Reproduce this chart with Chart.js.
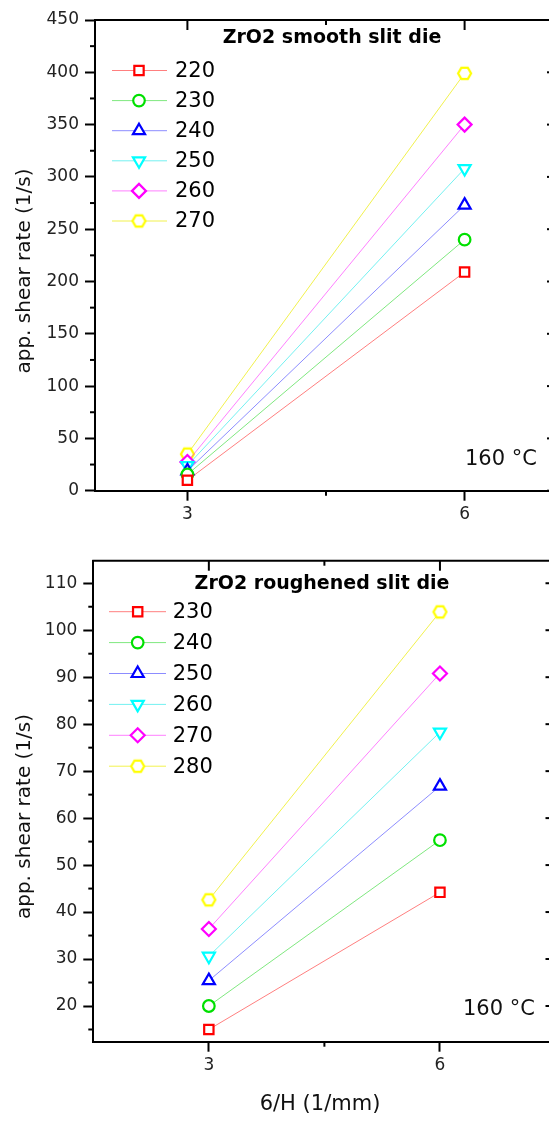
<!DOCTYPE html>
<html>
<head>
<meta charset="utf-8">
<script src="https://cdn.jsdelivr.net/npm/chart.js@4/dist/chart.umd.min.js"></script>
<style>
  html, body { margin: 0; padding: 0; background: #fff; overflow: hidden; width: 549px; height: 1122px; }
  canvas { position: absolute; left: 0; }
</style>
</head>
<body>
<canvas id="c1" width="570" height="540" style="top:0"></canvas>
<canvas id="c2" width="570" height="582" style="top:540px"></canvas>
<script>
const FONT = 'DejaVu Sans';

// shared x values (6/H, 1/mm)
const xValues = [3, 6];
const xTicks = [3, 6];
const xMinorTicks = [4.5];

// top panel: smooth slit die
const smoothLabels = ['220', '230', '240', '250', '260', '270'];
const smooth220 = [10, 209];
const smooth230 = [15.5, 240];
const smooth240 = [19, 273];
const smooth250 = [24, 308];
const smooth260 = [27.5, 350];
const smooth270 = [35, 399];
const smoothYTicks = [0, 50, 100, 150, 200, 250, 300, 350, 400, 450];
const smoothYMinor = [25, 75, 125, 175, 225, 275, 325, 375, 425];

// bottom panel: roughened slit die
const roughLabels = ['230', '240', '250', '260', '270', '280'];
const rough230 = [15, 44.2];
const rough240 = [20, 55.3];
const rough250 = [25.4, 66.8];
const rough260 = [30.6, 78.3];
const rough270 = [36.4, 90.8];
const rough280 = [42.6, 103.9];
const roughYTicks = [20, 30, 40, 50, 60, 70, 80, 90, 100, 110];
const roughYMinor = [15, 25, 35, 45, 55, 65, 75, 85, 95, 105];

// series look (same order in both panels)
const markerColors = ['#ff0000', '#00e000', '#0000ff', '#00ffff', '#ff00ff', '#ffff00'];
const lineColors = ['rgba(255,0,0,0.5)', 'rgba(0,210,0,0.5)', 'rgba(0,0,255,0.45)',
                    'rgba(0,230,230,0.55)', 'rgba(255,0,255,0.5)', 'rgba(235,235,0,0.7)'];

function makeHexagon(color, r) {
  const c = document.createElement('canvas');
  const s = Math.ceil(2 * r + 4);
  c.width = s; c.height = s;
  const g = c.getContext('2d');
  g.strokeStyle = color;
  g.fillStyle = '#fff';
  g.lineWidth = 2.2;
  g.beginPath();
  for (let k = 0; k < 6; k++) {
    const a = k * Math.PI / 3;
    const px = s / 2 + r * Math.cos(a);
    const py = s / 2 + r * Math.sin(a);
    k === 0 ? g.moveTo(px, py) : g.lineTo(px, py);
  }
  g.closePath();
  g.fill();
  g.stroke();
  return c;
}

const hexagon = makeHexagon('#ffff00', 6.5);
const pointStyles = ['rect', 'circle', 'triangle', 'triangle', 'rectRot', hexagon];
const pointRotations = [0, 0, 0, 180, 0, 0];
const pointRadii = [6.6, 5.8, 7, 7, 7, 6.5];

function buildDatasets(labels, series) {
  return series.map((vals, i) => ({
    label: labels[i],
    data: xValues.map((x, j) => ({ x, y: vals[j] })),
    showLine: true,
    borderColor: lineColors[i],
    borderWidth: 1,
    pointStyle: pointStyles[i],
    rotation: pointRotations[i],
    pointRadius: pointRadii[i],
    pointBorderWidth: 2.2,
    pointBorderColor: markerColors[i],
    pointBackgroundColor: '#fff'
  }));
}

// frame, minor ticks, legend and labels inside the panel
const panelDecor = {
  id: 'panelDecor',
  afterDraw(chart, args, o) {
    const { ctx, chartArea: a, scales: { x, y } } = chart;
    const seg = (x1, y1, x2, y2) => { ctx.beginPath(); ctx.moveTo(x1, y1); ctx.lineTo(x2, y2); ctx.stroke(); };
    ctx.save();
    ctx.strokeStyle = '#000';
    ctx.lineWidth = 2;
    seg(a.left - 1, a.top, a.right, a.top);
    seg(a.right, a.top, a.right, a.bottom);

    o.xMajor.forEach(v => { const p = x.getPixelForValue(v); seg(p, a.top, p, a.top + 10); });
    o.xMinor.forEach(v => {
      const p = x.getPixelForValue(v);
      seg(p, a.top, p, a.top + 5);
      seg(p, a.bottom, p, a.bottom + 5);
    });
    o.yMajor.forEach(v => { const p = y.getPixelForValue(v); seg(a.right - 10, p, a.right, p); });
    o.yMinor.forEach(v => {
      const p = y.getPixelForValue(v);
      seg(a.left - 5, p, a.left, p);
      seg(a.right - 5, p, a.right, p);
    });

    // legend
    const L = o.legend;
    chart.data.datasets.forEach((ds, i) => {
      const ly = L.y0 + i * L.gap;
      ctx.strokeStyle = ds.borderColor;
      ctx.lineWidth = 1;
      seg(L.x1, ly, L.x2, ly);
      ctx.strokeStyle = ds.pointBorderColor;
      ctx.fillStyle = '#fff';
      ctx.lineWidth = 2.2;
      Chart.helpers.drawPoint(ctx, {
        pointStyle: ds.pointStyle, rotation: ds.rotation,
        radius: ds.pointRadius, borderWidth: 2.2
      }, L.mx, ly);
      ctx.fillStyle = '#000';
      ctx.font = `21px "${FONT}"`;
      ctx.textAlign = 'left';
      ctx.textBaseline = 'middle';
      ctx.fillText(ds.label, L.tx, ly + 1);
    });

    ctx.fillStyle = '#000';
    ctx.textBaseline = 'middle';
    ctx.font = `bold 19px "${FONT}"`;
    ctx.textAlign = 'center';
    ctx.fillText(o.title, o.titleX, o.titleY);

    ctx.font = `21px "${FONT}"`;
    ctx.textAlign = 'left';
    ctx.fillStyle = '#111';
    ctx.fillText('160 °C', o.noteX, o.noteY);

    ctx.font = `20px "${FONT}"`;
    ctx.textAlign = 'center';
    ctx.save();
    ctx.translate(o.yTitleX, o.yTitleY);
    ctx.rotate(-Math.PI / 2);
    ctx.fillText('app. shear rate (1/s)', 0, 0);
    ctx.restore();

    if (o.xTitle) {
      ctx.font = `21px "${FONT}"`;
      ctx.fillText(o.xTitle, o.xTitleX, o.xTitleY);
    }
    ctx.restore();
  }
};

function makeChart(id, cfg) {
  return new Chart(document.getElementById(id), {
    type: 'scatter',
    data: { datasets: cfg.datasets },
    options: {
      responsive: false,
      animation: false,
      layout: { padding: { top: cfg.padTop, right: cfg.padRight, left: 0, bottom: 0 } },
      plugins: { legend: { display: false }, tooltip: { enabled: false }, panelDecor: cfg.decor },
      scales: {
        x: {
          type: 'linear', min: cfg.xMin, max: cfg.xMax,
          afterBuildTicks: s => { s.ticks = xTicks.map(v => ({ value: v })); },
          afterFit: s => { s.height = cfg.xHeight; },
          grid: { drawOnChartArea: false, tickLength: 10, tickColor: '#000', tickWidth: 2 },
          border: { color: '#000', width: 2 },
          ticks: { font: { family: FONT, size: 17 }, color: '#222', padding: 4, autoSkip: false }
        },
        y: {
          type: 'linear', min: cfg.yMin, max: cfg.yMax,
          afterBuildTicks: s => { s.ticks = cfg.yTicks.map(v => ({ value: v })); },
          afterFit: s => { s.width = cfg.yWidth; },
          grid: { drawOnChartArea: false, tickLength: 10, tickColor: '#000', tickWidth: 2 },
          border: { color: '#000', width: 2 },
          ticks: { font: { family: FONT, size: 17 }, color: '#222', padding: 6, autoSkip: false }
        }
      }
    },
    plugins: [panelDecor]
  });
}

makeChart('c1', {
  datasets: buildDatasets(smoothLabels, [smooth220, smooth230, smooth240, smooth250, smooth260, smooth270]),
  padTop: 20, padRight: 13, xHeight: 49.3, yWidth: 95,
  xMin: 2, xMax: 7, yMin: 0, yMax: 450, yTicks: smoothYTicks,
  decor: {
    xMajor: xTicks, xMinor: xMinorTicks, yMajor: smoothYTicks, yMinor: smoothYMinor,
    legend: { x1: 112, x2: 167, mx: 139, tx: 175, y0: 70.5, gap: 30.1 },
    title: 'ZrO2 smooth slit die', titleX: 332, titleY: 38,
    noteX: 465, noteY: 460,
    yTitleX: 25, yTitleY: 271
  }
});

makeChart('c2', {
  datasets: buildDatasets(roughLabels, [rough230, rough240, rough250, rough260, rough270, rough280]),
  padTop: 20.7, padRight: 14.5, xHeight: 80.3, yWidth: 93.3,
  xMin: 1.5, xMax: 7.5, yMin: 12.4, yMax: 114.8, yTicks: roughYTicks,
  decor: {
    xMajor: xTicks, xMinor: xMinorTicks, yMajor: roughYTicks, yMinor: roughYMinor,
    legend: { x1: 109, x2: 166, mx: 137.7, tx: 172.7, y0: 71.7, gap: 30.9 },
    title: 'ZrO2 roughened slit die', titleX: 322, titleY: 44,
    noteX: 463, noteY: 469.3,
    yTitleX: 25, yTitleY: 276.5,
    xTitle: '6/H (1/mm)', xTitleX: 320, xTitleY: 565
  }
});
</script>
</body>
</html>
